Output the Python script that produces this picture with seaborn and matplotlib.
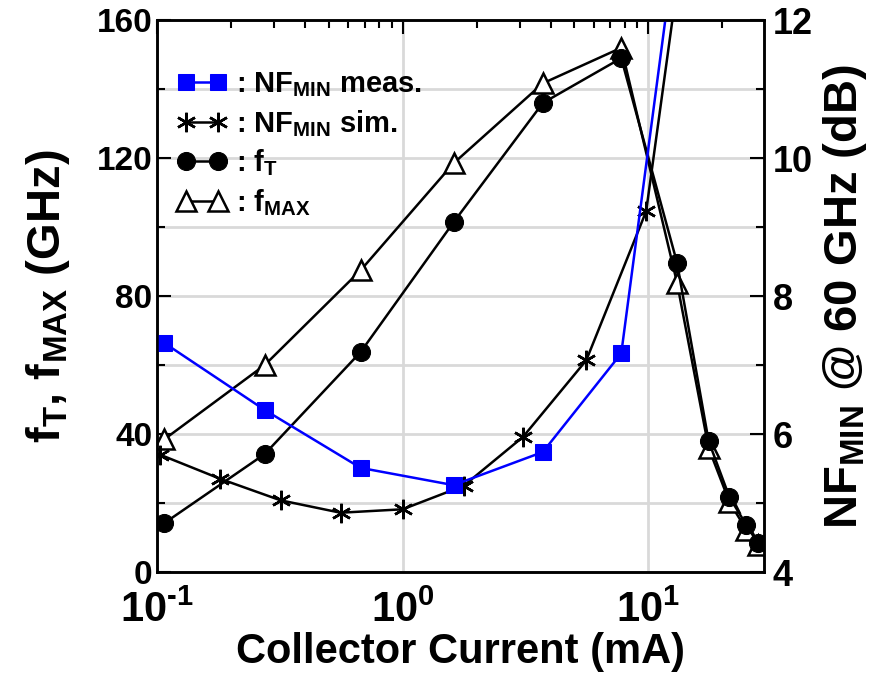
import matplotlib
matplotlib.use("Agg")
import matplotlib.pyplot as plt
import seaborn as sns
import numpy as np
import pandas as pd
from matplotlib.ticker import LogLocator, MultipleLocator, NullFormatter, FuncFormatter

# Collector current sweeps (mA)
current_ft = [0.107, 0.274, 0.674, 1.61, 3.72, 7.76, 13.1, 17.6, 21.4, 25.1, 27.9]
ft_ghz = [14.2, 34.2, 63.8, 101.4, 136.0, 149.0, 89.6, 38.0, 21.7, 13.6, 8.4]
fmax_ghz = [38.5, 60.0, 87.5, 118.5, 141.7, 152.0, 83.8, 36.0, 20.3, 12.2, 7.8]

current_meas = [0.107, 0.274, 0.674, 1.61, 3.72, 7.76, 13.1]
nfmin_meas = [7.32, 6.35, 5.51, 5.26, 5.74, 7.17, 13.3]

current_sim = [0.103, 0.181, 0.318, 0.558, 1.0, 1.77, 3.09, 5.59, 9.8, 13.1]
nfmin_sim = [5.70, 5.35, 5.04, 4.86, 4.91, 5.25, 5.96, 7.07, 9.23, 12.5]

legend_labels = [r": NF$_{MIN}$ meas.", r": NF$_{MIN}$ sim.", r": f$_{T}$", r": f$_{MAX}$"]

sns.set_style("white")
plt.rcParams["font.family"] = ["Liberation Sans", "DejaVu Sans"]
plt.rcParams["font.weight"] = "bold"
plt.rcParams["axes.labelweight"] = "bold"
plt.rcParams["text.color"] = "black"
plt.rcParams["axes.labelcolor"] = "black"
plt.rcParams["xtick.color"] = "black"
plt.rcParams["ytick.color"] = "black"
plt.rcParams["axes.unicode_minus"] = False
plt.rcParams["mathtext.fontset"] = "custom"
plt.rcParams["mathtext.rm"] = "Liberation Sans:bold"
plt.rcParams["mathtext.bf"] = "Liberation Sans:bold"
plt.rcParams["mathtext.it"] = "Liberation Sans:bold"
plt.rcParams["mathtext.default"] = "bf"

fig = plt.figure(figsize=(8.93, 6.73), dpi=100)
ax = fig.add_axes([0.176, 0.150, 0.680, 0.820])
ax2 = ax.twinx()

lw = 1.8
df_f = pd.DataFrame({"I": current_ft, "fT": ft_ghz, "fMAX": fmax_ghz})
df_m = pd.DataFrame({"I": current_meas, "NF": nfmin_meas})
df_s = pd.DataFrame({"I": current_sim, "NF": nfmin_sim})

sns.lineplot(data=df_f, x="I", y="fMAX", ax=ax, sort=False, estimator=None,
             color="black", lw=lw, marker="^", markersize=15,
             markerfacecolor="white", markeredgecolor="black", markeredgewidth=1.8)
sns.lineplot(data=df_f, x="I", y="fT", ax=ax, sort=False, estimator=None,
             color="black", lw=lw, marker="o", markersize=13,
             markerfacecolor="black", markeredgecolor="black")
sns.lineplot(data=df_s, x="I", y="NF", ax=ax2, sort=False, estimator=None,
             color="black", lw=lw, marker=(6, 2, 0), markersize=14,
             markeredgewidth=1.8, markeredgecolor="black")
sns.lineplot(data=df_m, x="I", y="NF", ax=ax2, sort=False, estimator=None,
             color="#0000ff", lw=lw, marker="s", markersize=12,
             markerfacecolor="#0000ff", markeredgecolor="#0000ff")

ax.set_xscale("log")
ax.set_xlim(0.1, 29.7)
ax.set_ylim(0, 160)
ax2.set_ylim(4, 12)

ax.yaxis.set_major_locator(MultipleLocator(40))
ax.yaxis.set_minor_locator(MultipleLocator(20))
ax2.yaxis.set_major_locator(MultipleLocator(2))
ax2.yaxis.set_minor_locator(MultipleLocator(1))
ax.xaxis.set_major_locator(LogLocator(base=10, numticks=10))
ax.xaxis.set_minor_locator(LogLocator(base=10, subs=np.arange(2, 10), numticks=20))
ax.xaxis.set_minor_formatter(NullFormatter())


def decade_label(x, pos):
    exp = int(round(np.log10(x)))
    if exp < 0:
        return r"10$^{\text{-}%d}$" % (-exp)
    return r"10$^{%d}$" % exp


ax.xaxis.set_major_formatter(FuncFormatter(decade_label))

# grid: decades vertically, every 20 GHz horizontally
ax.set_axisbelow(True)
ax.grid(True, which="major", axis="x", color="#d9d9d9", lw=2.0)
ax.grid(True, which="both", axis="y", color="#d9d9d9", lw=2.0)

ax.tick_params(axis="both", which="both", direction="in", top=True, width=1.5)
ax.tick_params(axis="y", labelsize=24)
ax.tick_params(axis="x", labelsize=30, pad=13)
ax.tick_params(which="major", length=10)
ax.tick_params(which="minor", length=6)
ax2.tick_params(axis="y", which="both", direction="in", labelsize=26, width=1.5, pad=6)
ax2.tick_params(which="major", length=10)
ax2.tick_params(which="minor", length=6)
for a in (ax, ax2):
    for s in a.spines.values():
        s.set_linewidth(1.8)
        s.set_color("black")
    for lab in a.get_yticklabels() + a.get_xticklabels():
        lab.set_fontweight("bold")

ax.set_xlabel("Collector Current (mA)", fontsize=30, fontweight="bold", labelpad=1)
ax.set_ylabel(r"f$_{T}$, f$_{MAX}$ (GHz)", fontsize=34, fontweight="bold", labelpad=18)
ax2.set_ylabel(r"NF$_{MIN}$ @ 60 GHz (dB)", fontsize=34, fontweight="bold", labelpad=6)

h_f = ax.get_lines()
h_n = ax2.get_lines()
handles = [h_n[1], h_n[0], h_f[1], h_f[0]]
leg = ax2.legend(handles, legend_labels, loc="upper left", bbox_to_anchor=(0.0, 0.946),
                 frameon=False, numpoints=2, handlelength=1.7, handletextpad=0.3,
                 labelspacing=0.3, borderaxespad=0.3,
                 prop={"size": 21, "weight": "bold"})

fig.savefig("out.png", dpi=100)
